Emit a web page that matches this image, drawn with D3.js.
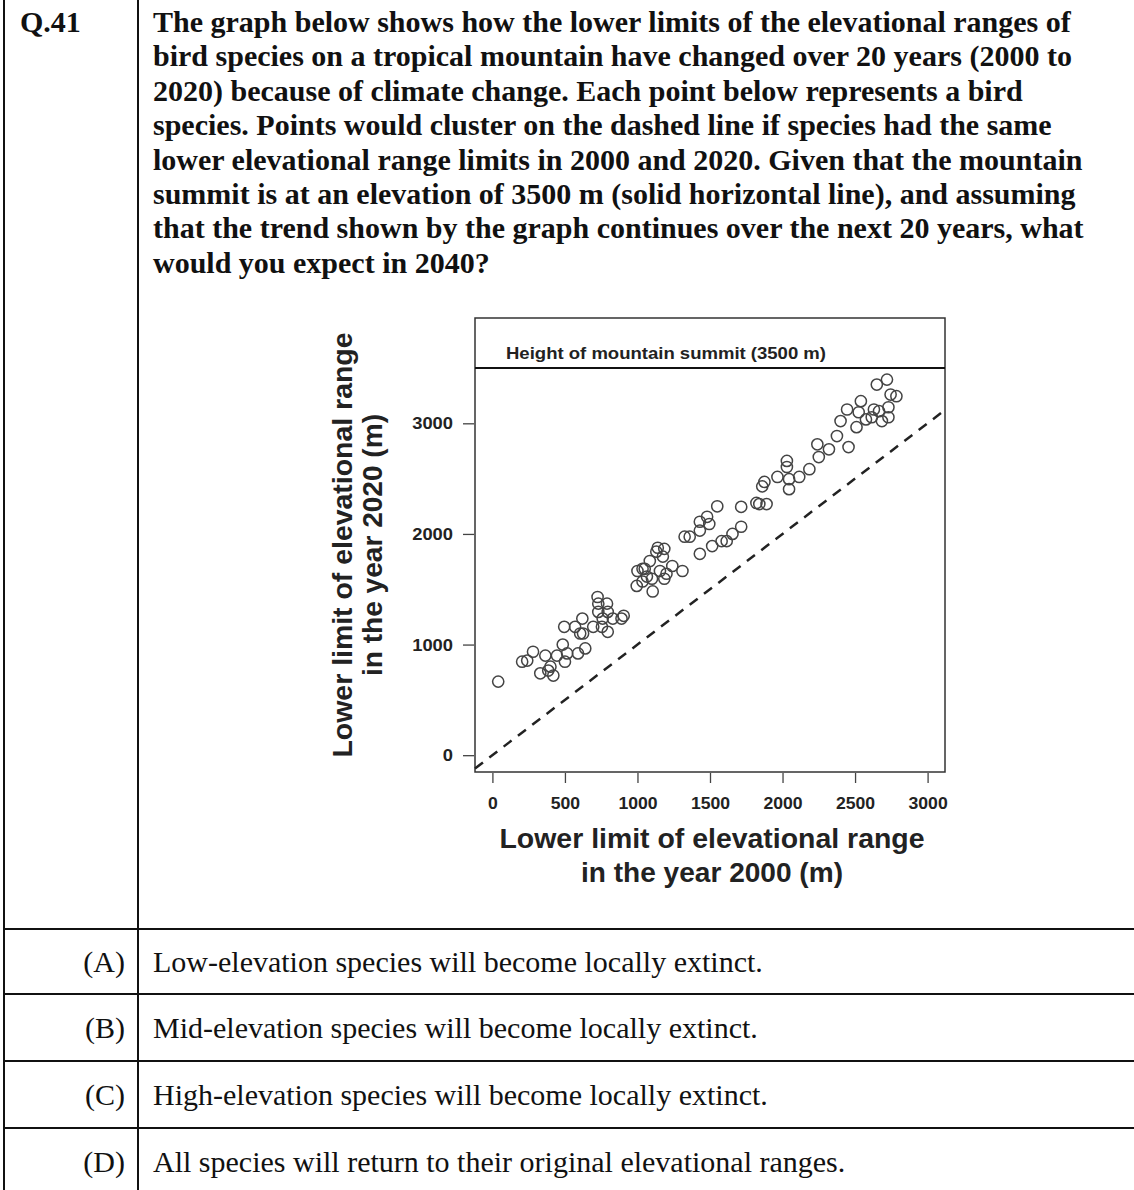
<!DOCTYPE html>
<html>
<head>
<meta charset="utf-8">
<script src="https://cdn.jsdelivr.net/npm/d3@7"></script>
<style>
  body { margin: 0; background: #fff; }
</style>
</head>
<body>
<script>
// lower limit in 2000 (m) and in 2020 (m), one entry per species
let limit_2000 = [
    40, 205, 240, 280, 365, 330, 385, 420, 400, 445, 485, 515, 500, 590, 640,
    495, 570, 620, 625, 695, 755, 795, 725, 730, 790, 730, 795, 760, 830, 890, 905, 605,
    995, 1035, 1000, 1035, 1085, 1130, 1140, 1185, 1065, 1100, 1155, 1185, 1200, 1240, 1310,
    1105, 1175, 1050, 1325, 1360, 1430, 1430, 1480, 1495, 1550, 1715, 1430, 1515, 1580, 1615,
    1655, 1715,
    1820, 1890, 1840, 1875, 1965, 2045, 2115, 2185, 2030, 2030, 2045, 1860, 2250, 2240, 2320,
    2375, 2455, 2400, 2445, 2510, 2540, 2525, 2575, 2630, 2615, 2685, 2730, 2730, 2650, 2720,
    2745, 2785, 2665
];
let limit_2020 = [
    665, 845, 855, 935, 900, 740, 765, 720, 800, 900, 1000, 920, 845, 920, 965,
    1160, 1160, 1235, 1100, 1160, 1160, 1115, 1430, 1370, 1370, 1295, 1295, 1235, 1235, 1235, 1260, 1100,
    1530, 1570, 1665, 1685, 1755, 1840, 1875, 1865, 1615, 1595, 1665, 1595, 1640, 1710, 1665,
    1480, 1795, 1685, 1975, 1975, 2030, 2110, 2155, 2090, 2250, 2245, 1820, 1890, 1935, 1935,
    2000, 2065,
    2280, 2270, 2270, 2470, 2515, 2495, 2515, 2585, 2660, 2605, 2405, 2430, 2695, 2810, 2765,
    2885, 2785, 3020, 3125, 2965, 3200, 3100, 3035, 3125, 3055, 3020, 3055, 3145, 3350, 3395,
    3260, 3245, 3110
];

let x_ticks = [0, 500, 1000, 1500, 2000, 2500, 3000];
let y_ticks = [0, 1000, 2000, 3000];
let x_domain = [-120, 3120];
let y_domain = [-152, 3952];
let summit = 3500;

let question_lines = [
    "The graph below shows how the lower limits of the elevational ranges of",
    "bird species on a tropical mountain have changed over 20 years (2000 to",
    "2020) because of climate change. Each point below represents a bird",
    "species. Points would cluster on the dashed line if species had the same",
    "lower elevational range limits in 2000 and 2020. Given that the mountain",
    "summit is at an elevation of 3500 m (solid horizontal line), and assuming",
    "that the trend shown by the graph continues over the next 20 years, what",
    "would you expect in 2040?"
];
let option_labels = ["(A)", "(B)", "(C)", "(D)"];
let option_texts = [
    "Low-elevation species will become locally extinct.",
    "Mid-elevation species will become locally extinct.",
    "High-elevation species will become locally extinct.",
    "All species will return to their original elevational ranges."
];

let page_width = 1134;
let page_height = 1190;

let svg = d3.select("body").append("svg")
    .attr("width", page_width)
    .attr("height", page_height);

// ---- table frame ----
let col_x = 138;
let row_lines = [929, 994, 1061, 1128];

svg.append("line").attr("x1", 4).attr("x2", 4).attr("y1", 0).attr("y2", page_height)
    .attr("stroke", "#111").attr("stroke-width", 2);
svg.append("line").attr("x1", col_x).attr("x2", col_x).attr("y1", 0).attr("y2", page_height)
    .attr("stroke", "#111").attr("stroke-width", 2);
row_lines.forEach(y => {
    svg.append("line").attr("x1", 4).attr("x2", page_width).attr("y1", y).attr("y2", y)
        .attr("stroke", "#111").attr("stroke-width", 2);
})

let serif = "'Liberation Serif', 'Times New Roman', serif";
let sans = "'Liberation Sans', Arial, sans-serif";

svg.append("text")
    .attr("x", 20).attr("y", 32)
    .style("font-family", serif).style("font-weight", "bold").style("font-size", "30px")
    .attr("fill", "#111")
    .text("Q.41");

question_lines.forEach((line, i) => {
    svg.append("text")
        .attr("x", 153).attr("y", 32 + i * 34.4)
        .style("font-family", serif).style("font-weight", "bold").style("font-size", "30px")
        .attr("fill", "#111")
        .text(line);
})

option_labels.forEach((label, i) => {
    let y_mid = (row_lines[i] + (row_lines[i + 1] || row_lines[i] + 67)) / 2;
    svg.append("text")
        .attr("x", 125).attr("y", y_mid + 10)
        .style("font-family", serif).style("font-size", "30px")
        .style("text-anchor", "end")
        .attr("fill", "#111")
        .text(label);
    svg.append("text")
        .attr("x", 153).attr("y", y_mid + 10)
        .style("font-family", serif).style("font-size", "30px")
        .attr("fill", "#111")
        .text(option_texts[i]);
})

// ---- scatter plot ----
let plot = { left: 475, right: 945, top: 318, bottom: 772 };

let x = d3.scaleLinear().domain(x_domain).range([plot.left, plot.right]);
let y = d3.scaleLinear().domain(y_domain).range([plot.bottom, plot.top]);

let g = svg.append("g");

// frame
g.append("rect")
    .attr("x", plot.left).attr("y", plot.top)
    .attr("width", plot.right - plot.left).attr("height", plot.bottom - plot.top)
    .attr("fill", "none").attr("stroke", "#333").attr("stroke-width", 1.5);

// summit line
g.append("line")
    .attr("x1", plot.left).attr("x2", plot.right)
    .attr("y1", y(summit)).attr("y2", y(summit))
    .attr("stroke", "#111").attr("stroke-width", 2);

g.append("text")
    .attr("x", 506).attr("y", y(summit) - 9)
    .attr("textLength", 320).attr("lengthAdjust", "spacingAndGlyphs")
    .style("font-family", sans).style("font-weight", "bold").style("font-size", "17px")
    .attr("fill", "#222")
    .text("Height of mountain summit (" + summit + " m)");

// 1:1 line
g.append("line")
    .attr("x1", x(x_domain[0])).attr("y1", y(x_domain[0]))
    .attr("x2", x(x_domain[1])).attr("y2", y(x_domain[1]))
    .attr("stroke", "#222").attr("stroke-width", 2.5)
    .attr("stroke-dasharray", "10,8");

// points
let points = limit_2000.map((d, i) => ({ x: d, y: limit_2020[i] }));
g.selectAll("circle.pt").data(points).join("circle")
    .attr("class", "pt")
    .attr("cx", d => x(d.x))
    .attr("cy", d => y(d.y))
    .attr("r", 5.6)
    .attr("fill", "none")
    .attr("stroke", "#444")
    .attr("stroke-width", 1.5);

// axes
let x_axis = g.append("g")
    .attr("transform", "translate(0," + (plot.bottom + 1) + ")")
    .call(d3.axisBottom(x).tickValues(x_ticks).tickFormat(d3.format("d")).tickSize(10).tickPadding(14));
let y_axis = g.append("g")
    .attr("transform", "translate(" + (plot.left - 1) + ",0)")
    .call(d3.axisLeft(y).tickValues(y_ticks).tickFormat(d3.format("d")).tickSize(11).tickPadding(10));

[x_axis, y_axis].forEach(a => {
    a.select(".domain").remove();
    a.selectAll("line").attr("stroke", "#444").attr("stroke-width", 1.3);
    a.selectAll("text")
        .style("font-family", sans).style("font-weight", "bold").style("font-size", "17px")
        .attr("fill", "#222");
})
x_axis.selectAll("text").attr("textLength", d => String(d).length * 9.8).attr("lengthAdjust", "spacingAndGlyphs");
y_axis.selectAll("text").attr("textLength", d => String(d).length * 10.2).attr("lengthAdjust", "spacingAndGlyphs");

// axis titles
let x_title = ["Lower limit of elevational range", "in the year 2000 (m)"];
let x_title_len = [425, 262];
x_title.forEach((t, i) => {
    g.append("text")
        .attr("x", (plot.left + plot.right) / 2 + 2).attr("y", 848 + i * 34)
        .attr("textLength", x_title_len[i]).attr("lengthAdjust", "spacingAndGlyphs")
        .style("font-family", sans).style("font-weight", "bold").style("font-size", "27px")
        .style("text-anchor", "middle")
        .attr("fill", "#222")
        .text(t);
})

let y_title = ["Lower limit of elevational range", "in the year 2020 (m)"];
let y_title_len = [425, 262];
y_title.forEach((t, i) => {
    let tx = 352 + i * 30;
    let ty = 545;
    g.append("text")
        .attr("x", tx).attr("y", ty)
        .attr("transform", "rotate(-90 " + tx + " " + ty + ")")
        .attr("textLength", y_title_len[i]).attr("lengthAdjust", "spacingAndGlyphs")
        .style("font-family", sans).style("font-weight", "bold").style("font-size", "27px")
        .style("text-anchor", "middle")
        .attr("fill", "#222")
        .text(t);
})
</script>
</body>
</html>
